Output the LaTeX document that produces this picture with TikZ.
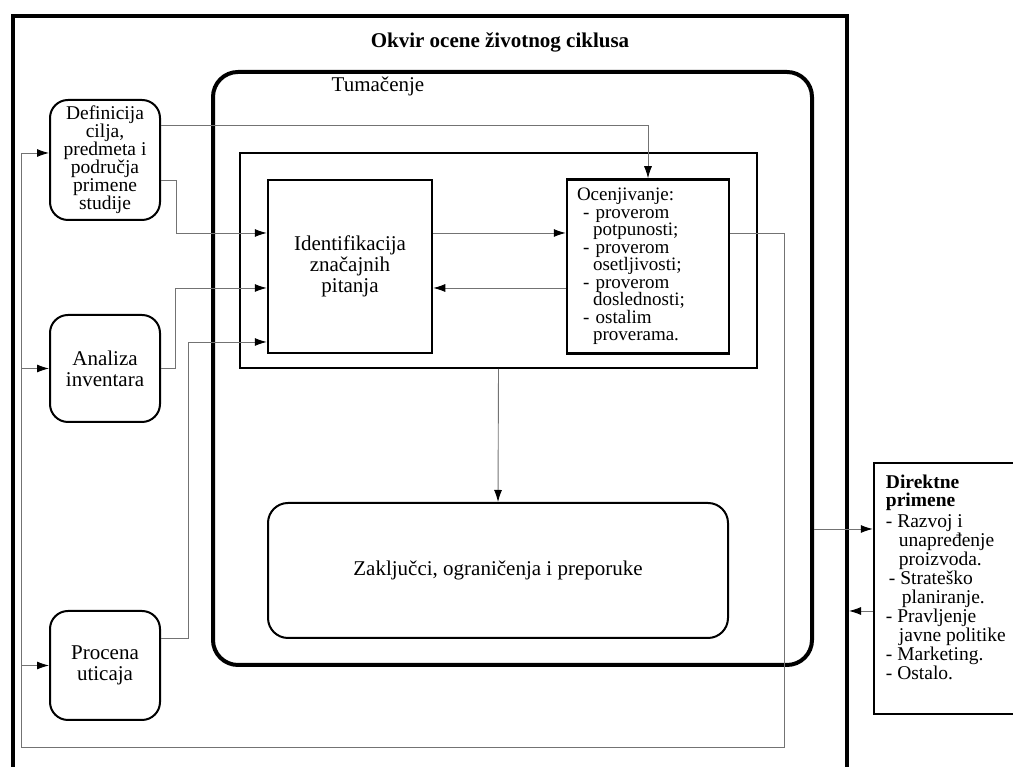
\documentclass[tikz,border=0pt]{standalone}
\usepackage{fontspec}
\setmainfont{Liberation Serif}
\usepackage{tikz}
\usetikzlibrary{arrows.meta}
\newcommand{\boxfont}[2]{\fontsize{#1}{#2}\selectfont\lineskiplimit=-30pt\relax}

\begin{document}
\begin{tikzpicture}[x=1pt, y=1pt, font=\boxfont{21}{21},
  stage/.style={draw, line width=2pt, rounded corners=18pt, align=center, minimum width=110pt, inner sep=2pt},
  panel/.style={draw, line width=2.5pt},
  link/.style={draw=black!55, line width=0.9pt, -{Latex[black, length=12pt, width=8pt]}}]
\useasboundingbox (0,0) rectangle (1013,767);
\clip (0,0) rectangle (1013,767);
% LCA framework
\node[draw, line width=4pt, minimum width=834.5pt, minimum height=773.5pt] (frame) at (429.75,363.75) {};
\node[font=\boxfont{21}{21}\bfseries] (title) at (500,725) {Okvir ocene životnog ciklusa};

\node[draw, rounded corners=25pt, line width=4pt, minimum width=599pt, minimum height=593pt] (tumac) at (512.5,398.5) {};
\node (tumaclabel) at (378,681) {Tumačenje};
\node[draw, line width=2pt, minimum width=517pt, minimum height=215pt] (inner) at (498.5,506.5) {};

\node[panel, minimum width=164pt, minimum height=173pt, align=center] (ident) at (350,500.5) {Identifikacija\\značajnih\\pitanja};
\node[panel, minimum height=174pt, text width=142pt, inner xsep=10pt, align=left, font=\boxfont{19}{17.5}] (ocenj) at (648,500.5)
  {Ocenjivanje:\\\hspace*{6pt}- proverom\\\hspace*{16pt}potpunosti;\\\hspace*{6pt}- proverom\\\hspace*{16pt}osetljivosti;\\\hspace*{6pt}- proverom\\\hspace*{16pt}doslednosti;\\\hspace*{6pt}- ostalim\\\hspace*{16pt}proverama.};
\node[draw, rounded corners=20pt, line width=2pt, minimum width=460pt, minimum height=135pt] (zaklj) at (498,196.5) {Zaključci, ograničenja i preporuke};

% phases
\node[stage, minimum height=120pt, font=\boxfont{19.5}{18}] (def) at (105,607) {Definicija\\cilja,\\predmeta i\\područja\\primene\\studije};
\node[stage, minimum height=107pt] (inv) at (105,398.5) {Analiza\\inventara};
\node[stage, minimum height=109pt] (uticaj) at (105,101.5) {Procena\\uticaja};

% applications
\node[panel, minimum width=156pt, minimum height=251pt] (primene) at (952,178.5) {};
\node[anchor=north west, inner sep=0pt, align=left, font=\boxfont{19.5}{19}] (primenelist) at ([xshift=13pt,yshift=-13pt]primene.north west)
  {\textbf{Direktne}\\[-1pt]\textbf{primene}\\[2pt]- Razvoj i\\\hspace*{13pt}unapređenje\\\hspace*{13pt}proizvoda.\\\hspace*{3pt}- Strateško\\\hspace*{16pt}planiranje.\\- Pravljenje\\\hspace*{13pt}javne politike\\- Marketing.\\- Ostalo.};

\coordinate (fbright) at (784,20);
\coordinate (fbleft) at (21,20);
\draw[link] ([yshift=33.5]ocenj.east) -| (fbright) -- (fbleft) |- ([yshift=7]def.west);
\draw[link] (fbleft |- inv.west) -- (inv.west);
\draw[link] (fbleft |- uticaj.west) -- (uticaj.west);

\draw[link] ([yshift=35]def.east) -| (ocenj.north);
\draw[link] ([yshift=-20]def.east) -- ++(15,0) |- ([yshift=33.5]ident.west);
\draw[link] (inv.east) -- ++(14,0) |- ([yshift=-21.5]ident.west);
\draw[link] ([yshift=27.5]uticaj.east) -- ++(27,0) |- ([yshift=-75.5]ident.west);

\draw[link] ([yshift=33.5]ident.east) -- ([yshift=33.5]ocenj.west);
\draw[link] ([yshift=-21.5]ocenj.west) -- ([yshift=-21.5]ident.east);
\draw[link] (inner.south) -- (zaklj.north);

\draw[link] ([yshift=-160.5]tumac.east) -- ([yshift=59.5]primene.west);
\coordinate (back) at ([yshift=-22.5]primene.west);
\draw[link] (back) -- (back -| frame.east);
\end{tikzpicture}
\end{document}
